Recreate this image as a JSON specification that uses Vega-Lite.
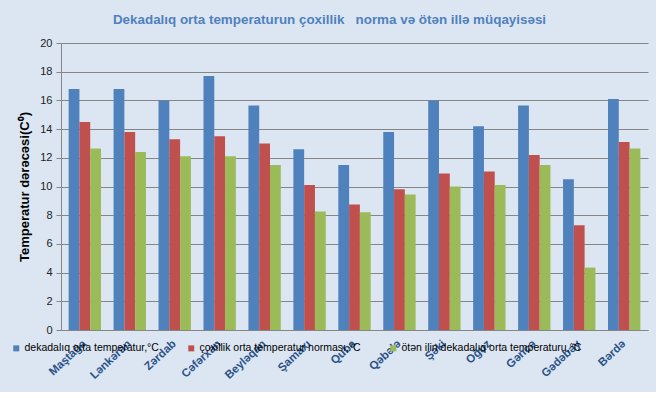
{
  "$schema": "https://vega.github.io/schema/vega-lite/v6.json",
  "autosize": "none",
  "width": 587,
  "height": 287,
  "padding": {"left": 61, "top": 43, "right": 8, "bottom": 62},
  "background": "#dce6f2",
  "config": {
    "font": "Liberation Sans",
    "view": {"stroke": null},
    "axis": {"labelFont": "Liberation Sans", "titleFont": "Liberation Sans"}
  },
  "title": {
    "text": "Dekadalıq orta temperaturun çoxillik\u00a0\u00a0\u00a0norma və ötən illə müqayisəsi",
    "color": "#4f81bd",
    "fontSize": 13.4,
    "fontWeight": "bold",
    "anchor": "middle",
    "frame": "bounds",
    "offset": 11,
    "dx": 0
  },
  "data": {
    "values": [
      {"city": "Maştağa", "series": "dekadalıq orta temperatur,°C", "value": 16.8},
      {"city": "Maştağa", "series": "çoxillik orta temperatur norması,°C", "value": 14.5},
      {"city": "Maştağa", "series": "ötən ilin dekadalıq orta temperaturu,°C", "value": 12.65},
      {"city": "Lənkəran", "series": "dekadalıq orta temperatur,°C", "value": 16.8},
      {"city": "Lənkəran", "series": "çoxillik orta temperatur norması,°C", "value": 13.8},
      {"city": "Lənkəran", "series": "ötən ilin dekadalıq orta temperaturu,°C", "value": 12.4},
      {"city": "Zərdab", "series": "dekadalıq orta temperatur,°C", "value": 16.0},
      {"city": "Zərdab", "series": "çoxillik orta temperatur norması,°C", "value": 13.3},
      {"city": "Zərdab", "series": "ötən ilin dekadalıq orta temperaturu,°C", "value": 12.1},
      {"city": "Cəfərxan", "series": "dekadalıq orta temperatur,°C", "value": 17.7},
      {"city": "Cəfərxan", "series": "çoxillik orta temperatur norması,°C", "value": 13.5},
      {"city": "Cəfərxan", "series": "ötən ilin dekadalıq orta temperaturu,°C", "value": 12.1},
      {"city": "Beyləqan", "series": "dekadalıq orta temperatur,°C", "value": 15.65},
      {"city": "Beyləqan", "series": "çoxillik orta temperatur norması,°C", "value": 13.0},
      {"city": "Beyləqan", "series": "ötən ilin dekadalıq orta temperaturu,°C", "value": 11.5},
      {"city": "Şamaxı", "series": "dekadalıq orta temperatur,°C", "value": 12.6},
      {"city": "Şamaxı", "series": "çoxillik orta temperatur norması,°C", "value": 10.1},
      {"city": "Şamaxı", "series": "ötən ilin dekadalıq orta temperaturu,°C", "value": 8.25},
      {"city": "Quba", "series": "dekadalıq orta temperatur,°C", "value": 11.5},
      {"city": "Quba", "series": "çoxillik orta temperatur norması,°C", "value": 8.75},
      {"city": "Quba", "series": "ötən ilin dekadalıq orta temperaturu,°C", "value": 8.2},
      {"city": "Qəbələ", "series": "dekadalıq orta temperatur,°C", "value": 13.8},
      {"city": "Qəbələ", "series": "çoxillik orta temperatur norması,°C", "value": 9.8},
      {"city": "Qəbələ", "series": "ötən ilin dekadalıq orta temperaturu,°C", "value": 9.45},
      {"city": "Şəki", "series": "dekadalıq orta temperatur,°C", "value": 16.0},
      {"city": "Şəki", "series": "çoxillik orta temperatur norması,°C", "value": 10.9},
      {"city": "Şəki", "series": "ötən ilin dekadalıq orta temperaturu,°C", "value": 10.0},
      {"city": "Oğuz", "series": "dekadalıq orta temperatur,°C", "value": 14.2},
      {"city": "Oğuz", "series": "çoxillik orta temperatur norması,°C", "value": 11.05},
      {"city": "Oğuz", "series": "ötən ilin dekadalıq orta temperaturu,°C", "value": 10.1},
      {"city": "Gəncə", "series": "dekadalıq orta temperatur,°C", "value": 15.65},
      {"city": "Gəncə", "series": "çoxillik orta temperatur norması,°C", "value": 12.2},
      {"city": "Gəncə", "series": "ötən ilin dekadalıq orta temperaturu,°C", "value": 11.5},
      {"city": "Gədəbəy", "series": "dekadalıq orta temperatur,°C", "value": 10.5},
      {"city": "Gədəbəy", "series": "çoxillik orta temperatur norması,°C", "value": 7.3},
      {"city": "Gədəbəy", "series": "ötən ilin dekadalıq orta temperaturu,°C", "value": 4.35},
      {"city": "Bərdə", "series": "dekadalıq orta temperatur,°C", "value": 16.1},
      {"city": "Bərdə", "series": "çoxillik orta temperatur norması,°C", "value": 13.1},
      {"city": "Bərdə", "series": "ötən ilin dekadalıq orta temperaturu,°C", "value": 12.65}
    ]
  },
  "mark": {"type": "bar"},
  "encoding": {
    "x": {
      "field": "city",
      "type": "nominal",
      "sort": null,
      "scale": {"paddingInner": 0.28, "paddingOuter": 0.17},
      "axis": {
        "title": null,
        "labelAngle": -43,
        "labelAlign": "right",
        "labelBaseline": "middle",
        "labelFontSize": 11.5,
        "labelFontWeight": "bold",
        "labelColor": "#2a5288",
        "labelPadding": 12,
        "ticks": false,
        "domainColor": "#868686",
        "grid": false
      }
    },
    "xOffset": {
      "field": "series",
      "type": "nominal",
      "sort": ["dekadalıq orta temperatur,°C", "çoxillik orta temperatur norması,°C", "ötən ilin dekadalıq orta temperaturu,°C"]
    },
    "y": {
      "field": "value",
      "type": "quantitative",
      "scale": {"domain": [0, 20], "nice": false},
      "axis": {
        "title": "Temperatur dərəcəsi(C⁰)",
        "titleFontSize": 13,
        "titleFontWeight": "bold",
        "titleColor": "#000000",
        "titlePadding": 8,
        "values": [0, 2, 4, 6, 8, 10, 12, 14, 16, 18, 20],
        "labelFontSize": 11,
        "labelColor": "#222222",
        "labelPadding": 4,
        "tickSize": 5,
        "tickColor": "#868686",
        "domainColor": "#868686",
        "gridColor": "#868686",
        "gridWidth": 1
      }
    },
    "color": {
      "field": "series",
      "type": "nominal",
      "scale": {
        "domain": ["dekadalıq orta temperatur,°C", "çoxillik orta temperatur norması,°C", "ötən ilin dekadalıq orta temperaturu,°C"],
        "range": ["#4f81bd", "#c0504d", "#9bbb59"]
      },
      "legend": {
        "title": null,
        "orient": "none",
        "direction": "horizontal",
        "columns": 3,
        "legendX": -50,
        "legendY": 300,
        "symbolType": "square",
        "symbolSize": 36,
        "symbolStrokeWidth": 0,
        "labelFontSize": 10.5,
        "labelColor": "#000000",
        "labelOffset": 3,
        "columnPadding": 27,
        "labelLimit": 300
      }
    }
  }
}
